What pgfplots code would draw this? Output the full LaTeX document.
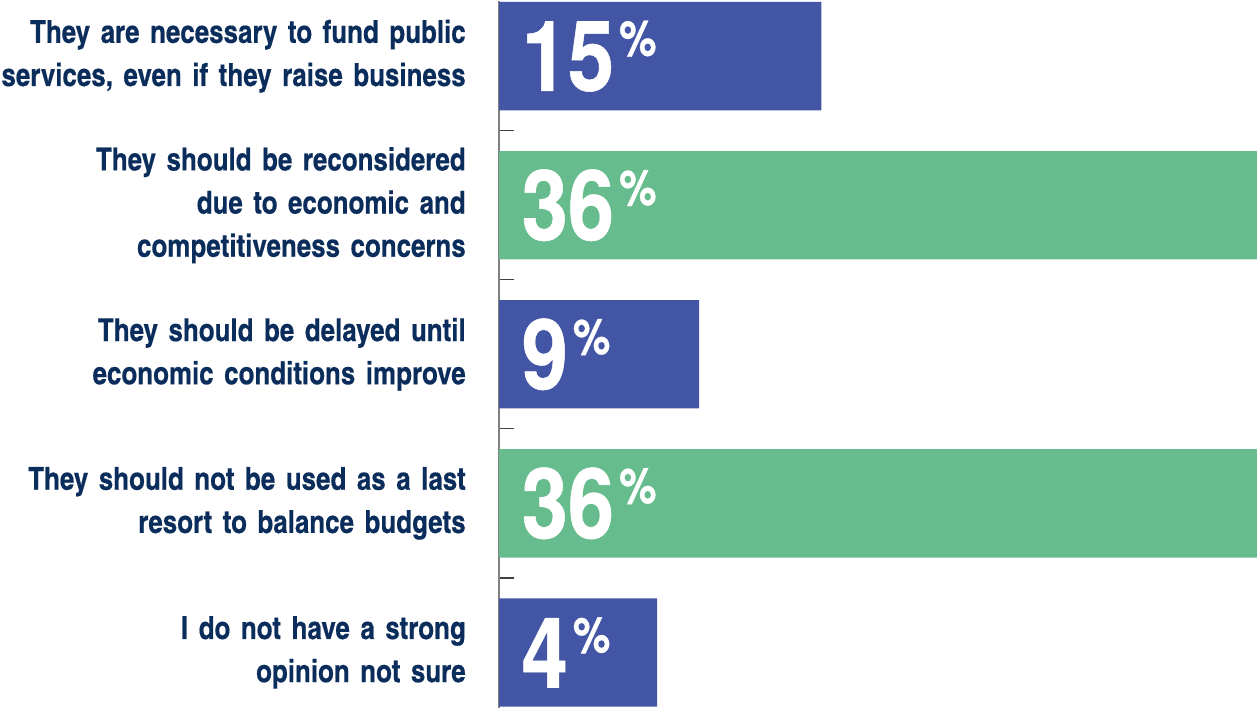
\documentclass[border=0pt]{standalone}
\usepackage{pgfplots}
\pgfplotsset{compat=1.18}
\usepackage{fontspec}
\newfontfamily\heroscn{texgyreheroscn}[Extension=.otf, UprightFont=*-regular, BoldFont=*-bold, BoldFeatures={FakeBold=0.4}]
\newfontfamily\heros{texgyreheros}[Extension=.otf, UprightFont=*-regular, BoldFont=*-bold, BoldFeatures={FakeBold=0.6}]
\definecolor{barblue}{HTML}{4355A5}
\definecolor{bargreen}{HTML}{66BC8C}
\definecolor{navy}{HTML}{0B2D5C}
\newcommand{\pct}[1]{\scalebox{0.85}[1]{{\heros\bfseries\fontsize{48.7}{49}\selectfont #1}\hspace{3pt}\raisebox{17.5pt}{\heros\bfseries\fontsize{24.6}{25}\selectfont\%}}}

\begin{document}
\begin{tikzpicture}
\begin{axis}[
    scale only axis,
    width=377.5pt, height=352pt,
    xmin=0, xmax=36,
    ymin=-0.37, ymax=4.37,
    y dir=reverse,
    axis x line=none,
    axis y line=left,
    y axis line style={-, draw=black!50, line width=1pt},
    ytick={0,1,2,3,4},
    yticklabels={
        {They are necessary to fund public\\services, even if they raise business},
        {They should be reconsidered\\due to economic and\\competitiveness concerns},
        {They should be delayed until\\economic conditions improve},
        {They should not be used as a last\\resort to balance budgets},
        {I do not have a strong\\opinion not sure}},
    major tick length=0pt,
    minor ytick={0.5,1.5,2.5,3.5},
    minor tick length=7.5pt,
    tick align=inside,
    ytick pos=left,
    minor tick style={draw=black!75, line width=0.6pt},
    yticklabel style={text width=232pt, align=right, inner sep=0pt, xshift=-16.5pt,
        font=\heroscn\bfseries\fontsize{15.75}{21.5}\selectfont, text=navy},
    clip=false,
]
\addplot[xbar, bar width=0.727, bar shift=0pt, fill=barblue, draw=none]
    coordinates {(15.3,0) (9.5,2) (7.5,4)};
\addplot[xbar, bar width=0.727, bar shift=0pt, fill=bargreen, draw=none]
    coordinates {(36,1) (36,3)};
\addplot[draw=none, mark=none, point meta=explicit symbolic,
    nodes near coords={\pct{\pgfplotspointmeta}},
    every node near coord/.style={anchor=west, xshift=11pt, text=white, inner sep=0pt}]
    coordinates {(0,0)[15] (0,1)[36] (0,2)[9] (0,3)[36] (0,4)[4]};
\end{axis}
\end{tikzpicture}
\end{document}
